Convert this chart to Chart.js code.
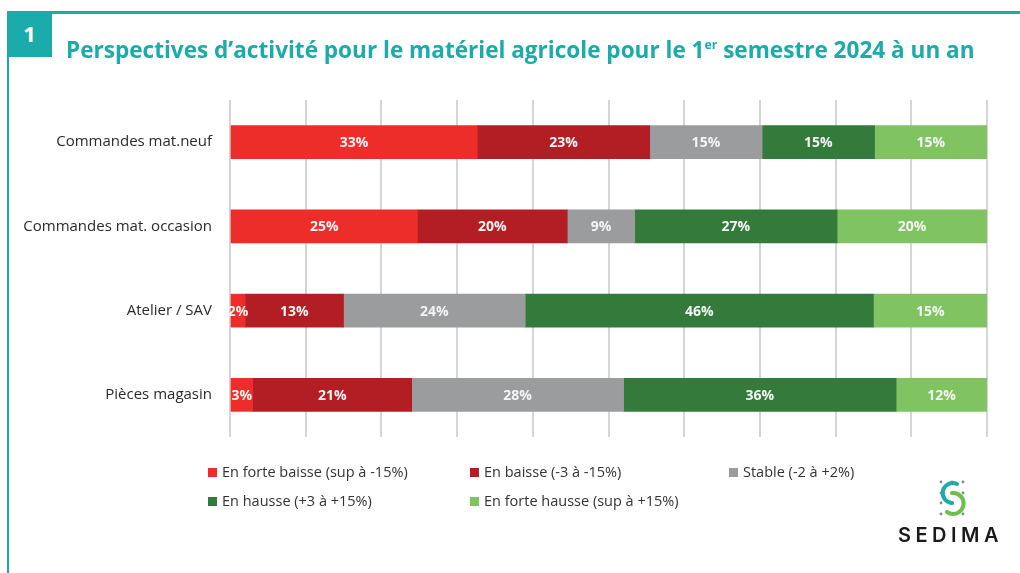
<!DOCTYPE html>
<html>
<head>
<meta charset="utf-8">
<script src="https://cdn.jsdelivr.net/npm/chart.js@4.4.1/dist/chart.umd.min.js"></script>
<style>
  html, body { margin: 0; padding: 0; background: #fff; }
  #page { position: relative; width: 1020px; height: 573px; overflow: hidden; font-family: 'Open Sans', sans-serif; }
  #chartBox { position: absolute; left: 0; top: 0; width: 1020px; height: 573px; }
  .frameTop { position: absolute; left: 52px; top: 11px; width: 968px; height: 3px; background: #1aabaa; }
  .frameLeft { position: absolute; left: 7px; top: 57px; width: 2px; height: 516px; background: #1aabaa; }
  .badge { position: absolute; left: 7px; top: 11px; width: 45px; height: 46px; background: #1aabaa; color: #fff;
           font: 700 22px 'Open Sans', sans-serif; text-align: center; line-height: 44px; }
  #title { position: absolute; left: 66px; top: 32px; white-space: nowrap; color: #1aabaa;
           font: 700 24px 'Open Sans', sans-serif; transform-origin: left top; }
  #title sup { font-size: 13px; vertical-align: 9px; line-height: 0; }
  #legend { position: absolute; left: 208px; top: 462px; font: 14.5px 'Open Sans', sans-serif; color: #333; }
  .item { position: absolute; white-space: nowrap; height: 20px; line-height: 20px; }
  .item span.box { position: absolute; left: 0; top: 6px; width: 9px; height: 9px; }
  .item span.txt { position: absolute; left: 14px; top: 0; }
  #logo { position: absolute; left: 895px; top: 476px; }
</style>
</head>
<body>
<div id="page">
  <div id="chartBox"><canvas id="barChart"></canvas></div>
  <div class="frameTop"></div>
  <div class="frameLeft"></div>
  <div class="badge">1</div>
  <div id="title">Perspectives d’activité pour le matériel agricole pour le 1<sup>er</sup> semestre 2024 à un an</div>
  <div id="legend"></div>
  <div id="logo">
    <svg width="110" height="72" viewBox="0 0 110 72">
      <g fill="#8a8a8a">
        <circle cx="46" cy="6" r="1.4"/><circle cx="57" cy="6" r="1.4"/><circle cx="68" cy="6" r="1.4"/>
        <circle cx="46" cy="17" r="1.4"/><circle cx="57" cy="17" r="1.4"/><circle cx="68" cy="17" r="1.4"/>
        <circle cx="46" cy="27" r="1.4"/><circle cx="57" cy="27" r="1.4"/><circle cx="68" cy="27" r="1.4"/>
        <circle cx="46" cy="38" r="1.4"/><circle cx="57" cy="38" r="1.4"/><circle cx="68" cy="38" r="1.4"/>
      </g>
      <path d="M62 8 A10 10 0 1 0 57 27" fill="none" stroke="#1aabaa" stroke-width="4" stroke-linecap="round"/>
      <path d="M57 17 A10.5 10.5 0 1 1 52 36" fill="none" stroke="#6cc04a" stroke-width="4" stroke-linecap="round"/>
      <text x="3" y="66" font-family="Inter, 'Open Sans', sans-serif" font-size="20" font-weight="600" letter-spacing="4.5" fill="#1a1a1a">SEDIMA</text>
    </svg>
  </div>
</div>
<script>
const categories = ['Commandes mat.neuf', 'Commandes mat. occasion', 'Atelier / SAV', 'Pièces magasin'];
const seriesNames = [
  'En forte baisse (sup à -15%)',
  'En baisse (-3 à -15%)',
  'Stable (-2 à +2%)',
  'En hausse (+3 à +15%)',
  'En forte hausse (sup à +15%)'
];
const forteBaisse = [33, 25, 2, 3];
const baisse = [23, 20, 13, 21];
const stable = [15, 9, 24, 28];
const hausse = [15, 27, 46, 36];
const forteHausse = [15, 20, 15, 12];
const seriesColors = ['#ec2d2a', '#b31e25', '#9a9c9d', '#347b3b', '#80c462'];

const seriesValues = [forteBaisse, baisse, stable, hausse, forteHausse];
// rows add up to 101 sometimes, so scale each bar to the full width
const rowTotals = categories.map((c, i) => seriesValues.reduce((s, arr) => s + arr[i], 0));

const datasets = seriesValues.map((vals, k) => ({
  label: seriesNames[k],
  data: vals.map((v, i) => v / rowTotals[i] * 100),
  shown: vals,
  backgroundColor: seriesColors[k],
  borderWidth: 0,
  barThickness: 33
}));

// legend, laid out like the original (3 + 2 items)
const legendPos = [[0, 0], [262, 0], [521, 0], [0, 29], [262, 29]];
const legendEl = document.getElementById('legend');
seriesNames.forEach((name, k) => {
  const d = document.createElement('div');
  d.className = 'item';
  d.style.left = legendPos[k][0] + 'px';
  d.style.top = legendPos[k][1] + 'px';
  d.innerHTML = '<span class="box" style="background:' + seriesColors[k] + '"></span><span class="txt">' + name + '</span>';
  legendEl.appendChild(d);
});

// fit title to its width in the original
const titleEl = document.getElementById('title');
titleEl.style.transform = 'scaleX(' + (909 / titleEl.scrollWidth) + ')';

const segmentLabels = {
  id: 'segmentLabels',
  afterDatasetsDraw(chart) {
    const ctx = chart.ctx;
    ctx.save();
    ctx.font = 'bold 14px "Open Sans", sans-serif';
    ctx.fillStyle = '#f4f4f4';
    ctx.textAlign = 'center';
    ctx.textBaseline = 'middle';
    chart.data.datasets.forEach((ds, k) => {
      chart.getDatasetMeta(k).data.forEach((bar, i) => {
        const x = (bar.x + bar.base) / 2;
        ctx.fillText(ds.shown[i] + '%', x, bar.y + 1);
      });
    });
    ctx.restore();
  }
};

new Chart(document.getElementById('barChart'), {
  type: 'bar',
  data: { labels: categories, datasets: datasets },
  plugins: [segmentLabels],
  options: {
    indexAxis: 'y',
    responsive: true,
    maintainAspectRatio: false,
    animation: false,
    layout: { padding: { top: 100, bottom: 136, left: 0, right: 33 } },
    plugins: {
      legend: { display: false },
      tooltip: { enabled: false }
    },
    scales: {
      x: {
        stacked: true,
        min: 0,
        max: 100,
        ticks: { display: false, stepSize: 10 },
        grid: { color: '#d5d5d5', lineWidth: 2, drawTicks: false },
        border: { display: false }
      },
      y: {
        stacked: true,
        afterFit: (scale) => { scale.width = 230; },
        ticks: { padding: 18, color: '#2b2b2b', font: { family: 'Open Sans', size: 15 } },
        grid: { display: false, drawTicks: false },
        border: { display: false }
      }
    }
  }
});
</script>
</body>
</html>
